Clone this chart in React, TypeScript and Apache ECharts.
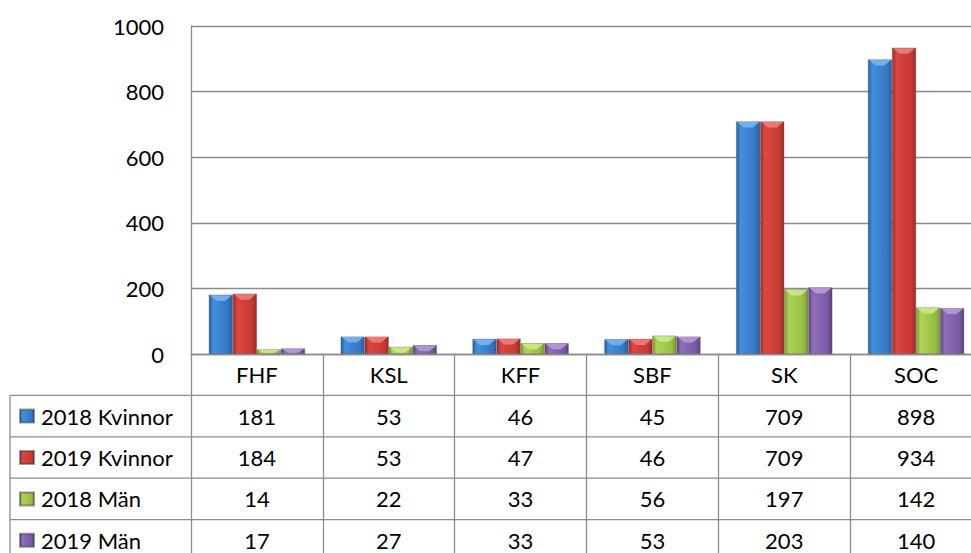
import React, { useEffect, useRef } from "react";
import * as echarts from "echarts";

const categories = ["FHF", "KSL", "KFF", "SBF", "SK", "SOC"];
const seriesNames = ["2018 Kvinnor", "2019 Kvinnor", "2018 Män", "2019 Män"];
const kvinnor2018 = [181, 53, 46, 45, 709, 898];
const kvinnor2019 = [184, 53, 47, 46, 709, 934];
const man2018 = [14, 22, 33, 56, 197, 142];
const man2019 = [17, 27, 33, 53, 203, 140];
const seriesValues = [kvinnor2018, kvinnor2019, man2018, man2019];
const yMin = 0;
const yMax = 1000;
const yInterval = 200;

// [edge, highlight, face, bevel top]
const palette = [
  ["#2a5e9f", "#4290dc", "#3577c2", "#78b4ee"],
  ["#9e2b27", "#dc4640", "#c63a35", "#ee7f7a"],
  ["#7a9a33", "#aed456", "#97bd45", "#cbe88a"],
  ["#5e437f", "#8f6cb8", "#7a5aa3", "#b59ad8"],
];

const FONT = "Lato, 'Open Sans', sans-serif";
const W = 990;
const H = 600; // drawing height; the page view is clipped at 553
const VIEW_H = 553;
const AXIS_Y = 354;
const GRID_LEFT = 191;
const GRID_TOP = 26;
const ROW_H = 41.4;
const TABLE_LEFT = 10;
const CAT_GAP = 0.27;

export default function App() {
  const ref = useRef<HTMLDivElement>(null);
  useEffect(() => {
    if (!ref.current) return;
    const chart = echarts.init(ref.current, undefined, { renderer: "svg" });
    const axisY = AXIS_Y;
    const rowCenter = (r: number) => axisY + (r + 1.5) * ROW_H;
    const grad = (c: string[]) =>
      new echarts.graphic.LinearGradient(0, 0, 1, 0, [
        { offset: 0, color: c[0] },
        { offset: 0.18, color: c[1] },
        { offset: 0.8, color: c[2] },
        { offset: 1, color: c[0] },
      ]);
    const bevelSeries = seriesNames.map((_, idx) => ({
      type: "custom",
      silent: true,
      z: 3,
      data: seriesValues[idx].map((v, i) => [i, v]),
      renderItem: (params: any, api: any) => {
        const top = api.coord([api.value(0), api.value(1)]);
        const catW = api.size([1, 0])[0];
        const usable = catW * (1 - CAT_GAP);
        const bw = usable / 4;
        const x0 = top[0] - usable / 2 + idx * bw;
        const x1 = x0 + bw;
        const xc = (x0 + x1) / 2;
        const y = top[1];
        const h = Math.min(6, Math.max(0, axisY - y - 1));
        return {
          type: "polygon",
          shape: {
            points: [
              [x0 + 1, y + 0.5],
              [x1 - 1, y + 0.5],
              [xc + bw * 0.18, y + h],
              [xc - bw * 0.18, y + h],
            ],
          },
          style: { fill: palette[idx][3], opacity: 0.9 },
        };
      },
    }));
    chart.setOption({
      animation: false,
      backgroundColor: "#ffffff",
      textStyle: { fontFamily: FONT },
      grid: {
        left: GRID_LEFT,
        right: W - 982,
        top: GRID_TOP,
        bottom: H - AXIS_Y,
        outerBoundsMode: "none",
        containLabel: false,
      },
      legend: seriesNames.map((name, r) => ({
        orient: "horizontal",
        left: 19,
        top: rowCenter(r) - 11,
        padding: 0,
        itemWidth: 14,
        itemHeight: 13,
        icon: "rect",
        data: [name],
        textStyle: { fontSize: 22, lineHeight: 22, color: "#000", fontFamily: FONT, padding: [0, 0, 0, 2] },
      })),
      xAxis: {
        type: "category",
        data: categories,
        axisLine: { lineStyle: { color: "#8c8c8c", width: 1.3 } },
        axisTick: { show: true, interval: 0, length: VIEW_H - AXIS_Y, lineStyle: { color: "#8c8c8c", width: 1.3 } },
        axisLabel: {
          interval: 0,
          margin: 0,
          fontSize: 22,
          lineHeight: ROW_H,
          color: "#000",
          fontFamily: FONT,
        },
      },
      yAxis: {
        type: "value",
        min: yMin,
        max: yMax,
        interval: yInterval,
        axisLine: { show: true, lineStyle: { color: "#8c8c8c", width: 1.3 } },
        axisTick: { show: false },
        splitLine: { lineStyle: { color: "#8c8c8c", width: 1.3 } },
        axisLabel: {
          fontSize: 22,
          color: "#000",
          margin: 27,
          fontFamily: FONT,
          formatter: (v: number) => String(v),
        },
      },
      series: [
        ...seriesNames.map((name, idx) => ({
          name,
          type: "bar",
          data: seriesValues[idx],
          barGap: "0%",
          barCategoryGap: CAT_GAP * 100 + "%",
          itemStyle: {
            color: grad(palette[idx]),
            borderColor: "rgba(60,60,60,0.5)",
            borderWidth: 0.6,
          },
        })),
        ...bevelSeries,
      ],
    });

    // data table drawn from the same arrays, x positions from the category axis
    const rowLines = [1, 2, 3, 4].map((k) => ({
      type: "line",
      shape: { x1: TABLE_LEFT, y1: axisY + k * ROW_H, x2: W, y2: axisY + k * ROW_H },
      style: { stroke: "#8c8c8c", lineWidth: 1.3 },
      silent: true,
    }));
    const cells: any[] = [];
    seriesValues.forEach((vals, r) => {
      vals.forEach((v, i) => {
        const x = chart.convertToPixel({ xAxisIndex: 0 }, categories[i]) as number;
        cells.push({
          type: "text",
          x,
          y: rowCenter(r),
          silent: true,
          style: {
            text: String(v),
            fontSize: 22,
            fontFamily: FONT,
            fill: "#000",
            align: "center",
            verticalAlign: "middle",
          },
        });
      });
    });
    chart.setOption({
      graphic: [
        ...rowLines,
        {
          type: "line",
          shape: { x1: TABLE_LEFT, y1: axisY + ROW_H, x2: TABLE_LEFT, y2: VIEW_H },
          style: { stroke: "#8c8c8c", lineWidth: 1.3 },
          silent: true,
        },
        ...cells,
      ],
    });
    return () => chart.dispose();
  }, []);
  return (
    <div style={{ position: "absolute", left: 0, top: 0, width: 971, height: VIEW_H, overflow: "hidden", background: "#fff" }}>
      <div ref={ref} style={{ width: W, height: H }} />
    </div>
  );
}
